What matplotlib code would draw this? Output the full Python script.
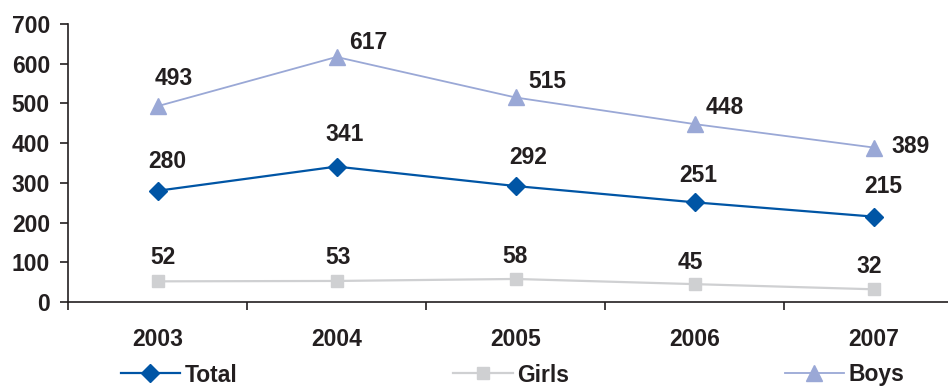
import matplotlib.pyplot as plt

years = ['2003', '2004', '2005', '2006', '2007']
total = [280, 341, 292, 251, 215]
girls = [52, 53, 58, 45, 32]
boys = [493, 617, 515, 448, 389]

plt.rcParams['font.family'] = ['Liberation Sans', 'DejaVu Sans']
plt.rcParams['font.weight'] = 'bold'
txt = '#231f20'
fs = 16.5

fig = plt.figure(figsize=(9.48, 3.86), dpi=100)
ax = fig.add_axes([68 / 948, 84 / 386, 895 / 948, 278 / 386])

x = list(range(len(years)))
ax.plot(x, total, color='#0055a5', lw=1.6, marker='D', ms=9, label='Total', zorder=3)
ax.plot(x, girls, color='#cfd0d2', lw=1.6, marker='s', ms=9, label='Girls', zorder=2)
ax.plot(x, boys, color='#9aa8d6', lw=1.3, marker='^', ms=11, label='Boys', zorder=2)

# label offsets in pixels (dx, dy)
off_total = [(10, 29), (8, 32), (13, 29), (4, 27), (10, 30)]
off_girls = [(5, 24), (2, 23), (0, 22), (-4, 22), (-4, 23)]
off_boys = [(16, 28), (32, 14), (32, 16), (30, 17), (37, 1)]
for vals, offs in [(total, off_total), (girls, off_girls), (boys, off_boys)]:
    for i, (v, o) in enumerate(zip(vals, offs)):
        ax.annotate(str(v), (i, v), xytext=o, textcoords='offset pixels',
                    ha='center', va='center', fontsize=fs, fontweight='bold', color=txt)

ax.set_xlim(-0.5, 4.5)
ax.set_ylim(0, 700)
ax.set_yticks(range(0, 701, 100))
ax.set_xticks(x)
ax.set_xticklabels(years)
ax.set_xticks([i + 0.5 for i in range(-1, 5)], minor=True)
ax.tick_params(axis='x', which='major', length=0, pad=19, labelsize=fs, labelcolor=txt)
ax.tick_params(axis='x', which='minor', length=6, width=1.2, direction='out', color=txt)
ax.tick_params(axis='y', length=6, width=1.2, pad=7, labelsize=fs, labelcolor=txt, color=txt)
for s in ['top', 'right']:
    ax.spines[s].set_visible(False)
for s in ['left', 'bottom']:
    ax.spines[s].set_linewidth(1.2)
    ax.spines[s].set_color(txt)

fig.legend(loc='center left', bbox_to_anchor=(100 / 948, 11 / 386), ncol=3,
           frameon=False, fontsize=fs, handlelength=2.6, handletextpad=0.2,
           columnspacing=9.4, labelcolor=txt)

fig.savefig('out.png', dpi=100)
